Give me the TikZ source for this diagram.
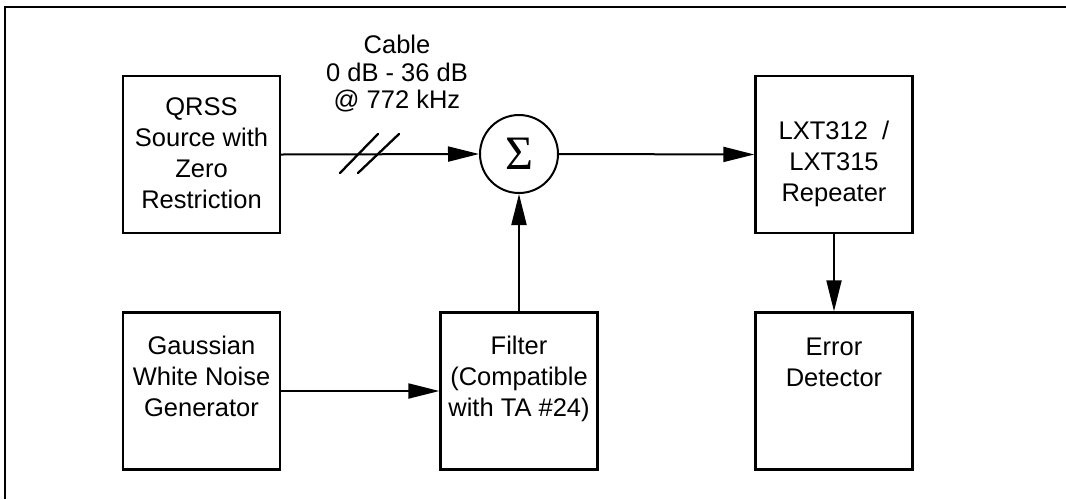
\documentclass[tikz,border=0pt]{standalone}
\usepackage{fontspec}
\setmainfont{Liberation Sans}
\newfontfamily\sigfont{Liberation Serif}
\usetikzlibrary{arrows.meta}
\begin{document}
\begin{tikzpicture}[x=1pt,y=-1pt,
  box/.style={draw, line width=2.3pt, minimum width=157pt, minimum height=157pt, inner sep=0pt},
  lbl/.style={font=\fontsize{25.5}{31}\selectfont, align=center, inner sep=0pt},
  arr/.style={line width=2pt, -{Triangle[length=31pt,width=15pt]}},
  wire/.style={line width=2.3pt}]
\useasboundingbox (0,0) rectangle (1066,499);
% frame
\coordinate (ftl) at (5,7);
\coordinate (ftr) at (1066,7);
\coordinate (fbl) at (5,499);
\draw[line width=2.2pt] (ftr) -- (ftl) -- (fbl);
% boxes
\node[box] (qrss) at (201.5,154.5) {};
\node[box] (gauss) at (201.5,391) {};
\node[box] (filt) at (519,391) {};
\node[box] (rep) at (834,154.5) {};
\node[box] (err) at (834,391) {};
\node[circle, draw, line width=2pt, minimum size=78pt, inner sep=0pt] (sum) at (519,154) {};
\node[inner sep=0pt, font=\sigfont\fontsize{48}{48}\selectfont] (sigma) at (519,154) {Σ};
% texts
\node[lbl] (qrsst) at (201.5,153) {QRSS\\Source with\\Zero\\Restriction};
\node[lbl] (gausst) at (201.5,376) {Gaussian\\White Noise\\Generator};
\node[lbl] (filtt) at (519,378.5) {Filter\\(Compatible\\with TA \#24)};
\node[lbl] (rept) at (834,163.5) {LXT312~~/\\LXT315\\Repeater};
\node[lbl] (errt) at (834,362) {Error\\Detector};
\node[lbl, font=\fontsize{25.5}{27.5}\selectfont] (cablet) at (397,74) {Cable\\0 dB - 36 dB\\@ 772 kHz};
% connectors
\draw[arr] (qrss.east) -- (sum.west);
\draw[arr] (sum.east) -- (rep.west);
\draw[arr] (filt.north) -- (sum.south);
\draw[arr] (rep.south) -- (err.north);
\draw[arr] (gauss.east) -- (filt.west);
% cable marks
\coordinate (cab) at (369,154);
\draw[wire, line cap=round] ([shift={(-29,19)}]cab) -- ([shift={(9,-20)}]cab);
\draw[wire, line cap=round] ([shift={(-11,19)}]cab) -- ([shift={(30,-20)}]cab);
\end{tikzpicture}
\end{document}
